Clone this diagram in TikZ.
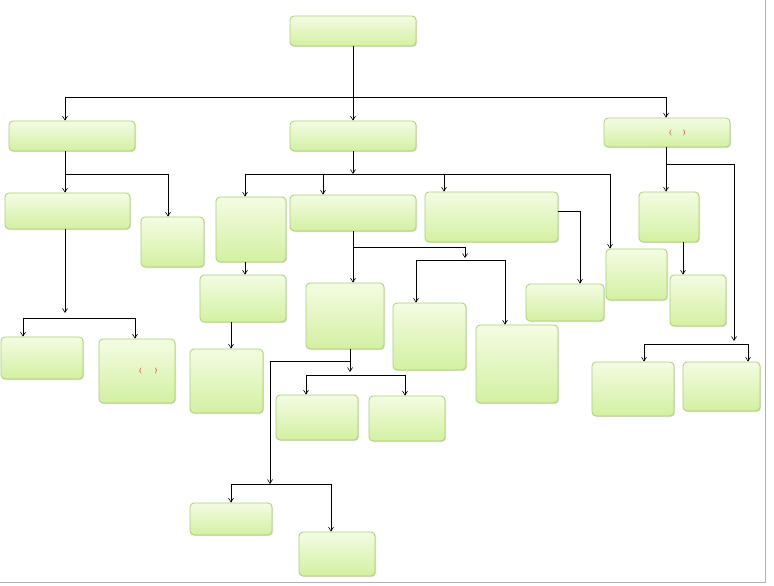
\documentclass[tikz,border=0pt]{standalone}
\usepackage{fontspec}
\usetikzlibrary{arrows.meta,shadows}
\definecolor{bord}{HTML}{A9CF73}
\definecolor{ftop}{HTML}{F4FCE3}
\definecolor{fbot}{HTML}{D3F0A2}
\definecolor{txt}{HTML}{C0392B}
\begin{document}
\begin{tikzpicture}[x=1pt,y=-1pt,
  box/.style={draw=bord,line width=0.8pt,rounded corners=4pt,top color=ftop,bottom color=fbot,
    drop shadow={opacity=0.25,shadow xshift=1pt,shadow yshift=-1pt},
    text=txt,font=\fontsize{6}{9}\selectfont\bfseries,align=center,inner sep=1pt},
  ar/.style={-{Straight Barb[length=4pt,width=5pt]},line width=0.6pt},
  ln/.style={line width=0.6pt}]
\useasboundingbox (0,0) rectangle (774,586);
\newcommand{\bx}[6]{\node[box,minimum width={#4-#2},minimum height={#5-#3},text width={#4-#2-4}] (#1) at ({(#2+#4)/2},{(#3+#5)/2}) {#6};}
\bx{top}{290}{16}{416}{46}{ප්‍රාදේශීය ලේකම්}
\bx{acc}{9}{121}{135}{151}{ගණකාධිකාරී}
\bx{apl}{290}{121}{416}{151}{සහකාර ප්‍රාදේශීය ලේකම්}
\bx{adp}{604}{118}{730}{147}{සහකාර අධ්‍යක්ෂ ( සැලසුම්)}
\bx{mud}{5}{193}{130}{229}{මුදල් සහකාර}
\bx{vis}{141}{217}{204}{267}{විශ්‍රාම වැටුප් නිලධාරී}
\bx{kal1}{1}{337}{83}{379}{කළමනාකරණ සහකාර}
\bx{san1}{99}{339}{175}{403}{සංවර්ධන නිලධාරී (මෝටර් රථ)}
\bx{dhq}{216}{197}{286}{262}{දිවිනැගුම මූලස්ථාන කළමනාකරු}
\bx{par}{290}{195}{416}{231}{පරිපාලන නිලධාරී}
\bx{pgn}{425}{192}{558}{242}{පරිපාලන නිලධාරී ග්‍රාම නිලධාරී}
\bx{gn}{526}{284}{604}{321}{ග්‍රාම නිලධාරී}
\bx{kos}{606}{249}{667}{300}{ක්ෂේත්‍ර නිලධාරී}
\bx{snk}{639}{192}{699}{242}{සංඛ්‍යාන නිලධාරී}
\bx{sns}{670}{275}{726}{326}{සංඛ්‍යාන සහායක}
\bx{kal4}{592}{362}{674}{416}{කළමනාකරණ සහකාර}
\bx{san4}{683}{362}{760}{411}{සංවර්ධන නිලධාරී}
\bx{dkl}{200}{275}{286}{322}{දිවිනැගුම කලාප කළමනාකරු}
\bx{dsn}{190}{349}{263}{413}{දිවිනැගුම සංවර්ධන නිලධාරී}
\bx{pra}{306}{283}{384}{349}{ප්‍රධාන කළමනාකරණ සහකාර}
\bx{ati}{393}{303}{466}{370}{අතිරේක දිස්ත්‍රික් රෙජිස්ට්‍රාර්}
\bx{tho}{476}{325}{558}{403}{තොරතුරු තාක්ෂණ හා සන්නිවේදන සහකාර}
\bx{kal3}{276}{395}{358}{440}{කළමනාකරණ සහකාර}
\bx{san3}{369}{396}{445}{441}{සංවර්ධන නිලධාරී}
\bx{riy}{190}{503}{272}{535}{රියදුරු}
\bx{kar}{299}{532}{375}{576}{කාර්යාල කාර්ය සහායක}
\newcommand{\dn}[2]{\draw[ar] (#1) -- (#1 |- #2.north);}
% top level
\draw[ar] (top.south) -- (apl.north);
\coordinate (t1) at (65,97);\coordinate (t2) at (666,97);
\draw[ln] (t1) -- (t2);
\dn{t1}{acc}
\dn{t2}{adp}
% accountant
\coordinate (a1) at (65,174);\coordinate (a2) at (168,174);
\draw[ln] (a1 |- acc.south) -- (a1) -- (a2);
\dn{a1}{mud}
\dn{a2}{vis}
\draw[ar] (a1 |- mud.south) -- (65,313);
\coordinate (m1) at (23,318);\coordinate (m2) at (135,318);
\draw[ln] (m1) -- (m2);
\dn{m1}{kal1}
\dn{m2}{san1}
% APL
\draw[ar] (apl.south) -- (353,174);
\coordinate (p1) at (245,174);\coordinate (p2) at (323,174);
\coordinate (p3) at (444,174);\coordinate (p4) at (610,174);
\draw[ln] (p1) -- (p4);
\dn{p1}{dhq}\dn{p2}{par}\dn{p3}{pgn}\dn{p4}{kos}
\coordinate (g1) at (580,211);
\draw[ln] (pgn.east |- g1) -- (g1);
\dn{g1}{gn}
\coordinate (d1) at (245,262);\dn{d1}{dkl}
\coordinate (d2) at (231,322);\dn{d2}{dsn}
% parip
\coordinate (q0) at (353,247);\coordinate (q1) at (465,247);
\draw[ln] (q0 |- par.south) -- (q0) -- (q1);
\draw[ar] (q1) -- (465,258);
\dn{q0}{pra}
\coordinate (r1) at (416,260);\coordinate (r2) at (505,260);
\draw[ln] (r1) -- (r2);
\dn{r1}{ati}\dn{r2}{tho}
% pradhana
\coordinate (s0) at (350,349);
\draw[ar] (s0) -- (350,372);
\coordinate (s1) at (306,375);\coordinate (s2) at (405,375);
\draw[ln] (s1) -- (s2);
\dn{s1}{kal3}\dn{s2}{san3}
\draw[ar] (350,361) -- (270,361) -- (270,484);
\coordinate (u1) at (231,484);\coordinate (u2) at (331,484);
\draw[ln] (u1) -- (u2);
\dn{u1}{riy}\dn{u2}{kar}
% planning
\coordinate (v0) at (666,147);\dn{v0}{snk}
\draw[ar] (666,164) -- (734,164) -- (734,341);
\coordinate (v1) at (683,242);\dn{v1}{sns}
\coordinate (w1) at (644,344);\coordinate (w2) at (748,344);
\draw[ln] (w1) -- (w2);
\dn{w1}{kal4}\dn{w2}{san4}
\draw[gray!60,line width=0.5pt] (765,0) -- (765,582) -- (0,582);
\end{tikzpicture}
\end{document}
